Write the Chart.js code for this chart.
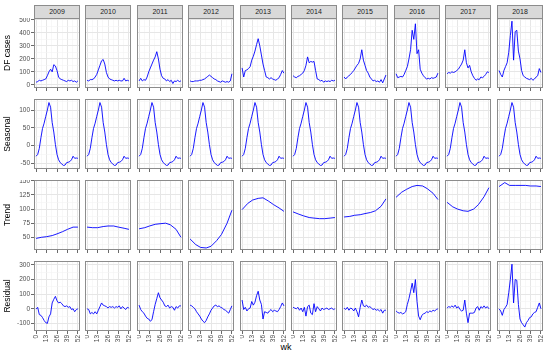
<!DOCTYPE html>
<html>
<head>
<meta charset="utf-8">
<script src="https://cdn.jsdelivr.net/npm/chart.js@4.4.1/dist/chart.umd.min.js"></script>
<style>
  body { margin: 0; background: #fff; width: 550px; height: 355px; position: relative; overflow: hidden;
         font-family: "Liberation Sans", Arial, sans-serif; }
  canvas { position: absolute; }
  .strip { position: absolute; top: 5px; height: 14px; box-sizing: border-box; background: #d9d9d9;
           border: 1px solid #8c8c8c; font-size: 7px; color: #1a1a1a; text-align: center; line-height: 12px; }
  #xtitle { position: absolute; top: 342px; left: 0; width: 572px; text-align: center; font-size: 9px; color: #000; }
</style>
</head>
<body>
<div id="xtitle">wk</div>
<script>
const years = ['2009', '2010', '2011', '2012', '2013', '2014', '2015', '2016', '2017', '2018'];
const weeks = [0, 2, 4, 6, 8, 10, 12, 14, 16, 18, 20, 22, 24, 26, 28, 30, 32, 34, 36, 38, 40, 42, 44, 46, 48, 50, 52];
const trendWeeks = [0, 7, 13, 20, 26, 33, 39, 46, 52];

const cases2009 = [20, 25, 35, 30, 35, 40, 45, 70, 100, 120, 100, 155, 145, 110, 60, 45, 40, 35, 30, 25, 35, 30, 35, 25, 30, 20, 30];
const cases2010 = [35, 30, 40, 40, 45, 60, 80, 115, 150, 185, 195, 160, 95, 60, 45, 40, 35, 30, 35, 30, 35, 30, 30, 50, 30, 35, 30];
const cases2011 = [30, 50, 30, 40, 35, 60, 100, 130, 160, 190, 215, 255, 200, 120, 70, 50, 45, 30, 40, 25, 35, 10, 30, 25, 35, 25, 30];
const cases2012 = [30, 25, 25, 30, 30, 30, 35, 35, 40, 45, 55, 65, 75, 65, 55, 45, 40, 30, 25, 20, 30, 25, 20, 25, 20, 30, 85];
const cases2013 = [130, 60, 110, 115, 125, 140, 190, 220, 260, 310, 355, 300, 230, 160, 110, 60, 55, 45, 55, 45, 40, 35, 45, 55, 80, 110, 90];
const cases2014 = [70, 60, 55, 65, 70, 80, 90, 110, 150, 215, 170, 180, 175, 180, 110, 45, 40, 30, 35, 20, 30, 25, 30, 25, 35, 30, 35];
const cases2015 = [60, 45, 60, 70, 80, 95, 110, 130, 150, 165, 200, 270, 190, 150, 110, 90, 60, 45, 30, 35, 25, 30, 20, 40, 15, 45, 75];
const cases2016 = [85, 55, 60, 65, 60, 80, 110, 140, 200, 270, 420, 350, 470, 240, 270, 120, 90, 70, 55, 45, 50, 45, 55, 50, 55, 60, 90];
const cases2017 = [85, 95, 90, 100, 95, 100, 110, 120, 140, 160, 190, 270, 170, 130, 150, 100, 70, 50, 35, 45, 40, 60, 55, 65, 80, 100, 95];
const cases2018 = [110, 80, 60, 110, 140, 170, 250, 380, 490, 190, 410, 420, 260, 200, 110, 70, 60, 50, 45, 40, 50, 35, 45, 60, 70, 125, 95];

const seasonal = [-30, -25, -8, 22, 48, 63, 82, 100, 121, 108, 65, 38, 3, -25, -40, -48, -52, -56, -55, -48, -47, -45, -40, -30, -36, -35, -36];

const trend2009 = [48, 50, 51, 53, 56, 60, 64, 68, 68];
const trend2010 = [68, 67, 67, 69, 70, 70, 68, 66, 64];
const trend2011 = [65, 67, 70, 73, 74, 75, 72, 64, 50];
const trend2012 = [47, 37, 32, 31, 34, 44, 55, 75, 98];
const trend2013 = [99, 110, 116, 119, 120, 114, 108, 102, 96];
const trend2014 = [95, 91, 88, 85, 84, 83, 83, 84, 85];
const trend2015 = [86, 87, 89, 90, 92, 94, 97, 105, 118];
const trend2016 = [121, 130, 135, 140, 142, 141, 136, 128, 117];
const trend2017 = [112, 104, 100, 97, 96, 100, 108, 122, 138];
const trend2018 = [140, 147, 142, 142, 142, 142, 141, 141, 140];

const resid2009 = [-2, 10, -40, -45, -60, -80, -95, -100, -55, -35, 40, 65, 85, 55, 40, 45, 35, 20, 15, 20, 10, 15, -5, 0, -20, -5, 0];
const resid2010 = [0, -5, -35, -25, -35, -20, -35, -10, 15, 40, 25, 20, 15, 5, 15, 10, 15, 5, 15, 10, 20, 0, 15, 5, -5, 10, 5];
const resid2011 = [25, -5, -20, -30, -50, -65, -70, -85, -75, -20, 30, 70, 110, 75, 60, 45, 20, 15, 25, 5, 15, 10, -10, 15, 5, 20, 20];
const resid2012 = [25, 20, 10, 0, -20, -35, -50, -70, -85, -95, -80, -55, -35, -10, 5, 20, 25, 15, 20, 10, 5, -5, -10, -20, -30, -5, 20];
const resid2013 = [60, -5, 10, -15, 0, 5, 50, 25, 45, 90, 120, 60, 30, -70, -20, -25, -30, -15, -5, -20, -10, -15, -20, -5, 15, 40, 20];
const resid2014 = [10, 5, 0, 10, -10, 5, -20, 10, -50, 15, 25, -30, -40, 35, -20, 15, 0, -15, 5, -5, 0, 5, -5, 0, 5, -5, 0];
const resid2015 = [5, -5, 10, -10, 5, 0, -15, 5, -20, -55, 10, 60, 20, 15, 25, 10, 15, 5, -5, 0, -10, -5, -15, -5, -30, -10, -10];
const resid2016 = [-15, -25, -30, -25, -35, -30, -20, 30, 70, 120, 175, 110, 200, 50, -50, -75, -45, -35, -30, -20, -25, -15, -20, -10, -15, -5, 0];
const resid2017 = [5, 15, 10, 20, 10, 25, 5, 15, -5, -15, -10, 60, -30, -95, -30, -30, -30, -25, 5, 15, -10, 15, 5, 20, 5, 15, 0];
const resid2018 = [0, -15, -45, -5, 10, 30, 110, 200, 305, 40, 200, 195, 30, -70, -95, -110, -125, -95, -80, -60, -55, -35, -25, -20, 10, 40, 0];

// axis ticks (major labelled, minor = grid only)
const xMajor = [0, 13, 26, 39, 52];
const xMinor = [6.5, 19.5, 32.5, 45.5];
const rowNames = ['DF cases', 'Seasonal', 'Trend', 'Residual'];
const yMajor = [[0, 100, 200, 300, 400, 500], [-50, 0, 50, 100], [50, 75, 100, 125, 150], [-100, 0, 100, 200, 300]];
const yMinor = [[50, 150, 250, 350, 450], [-25, 25, 75, 125], [37.5, 62.5, 87.5, 112.5, 137.5], [-150, -50, 50, 150, 250]];
const yRange = [[-24.5, 514.5], [-66, 131], [27.4, 151.6], [-152, 327]];

const casesByYear = [cases2009, cases2010, cases2011, cases2012, cases2013, cases2014, cases2015, cases2016, cases2017, cases2018];
const trendByYear = [trend2009, trend2010, trend2011, trend2012, trend2013, trend2014, trend2015, trend2016, trend2017, trend2018];
const residByYear = [resid2009, resid2010, resid2011, resid2012, resid2013, resid2014, resid2015, resid2016, resid2017, resid2018];

// layout
const panelLeft = [34, 85, 137, 188, 240, 291, 342, 394, 445, 497];
const panelW = 46;
const rowTop = [18, 99, 180, 261];
const panelH = 70;
const FONT = '"Liberation Sans", Arial, sans-serif';

const frame = {
  id: 'frame',
  afterDraw(chart) {
    const a = chart.chartArea, g = chart.ctx;
    g.save();
    g.strokeStyle = '#8c8c8c';
    g.lineWidth = 1;
    g.strokeRect(a.left + 0.5, a.top + 0.5, a.right - a.left - 1, a.bottom - a.top - 1);
    g.restore();
  }
};

const sortTicks = (a, b) => a.concat(b).sort((p, q) => p - q).map(v => ({value: v}));

function seriesFor(r, c) {
  if (r === 0) return weeks.map((x, i) => ({x, y: casesByYear[c][i]}));
  if (r === 1) return weeks.map((x, i) => ({x, y: seasonal[i]}));
  if (r === 2) return trendWeeks.map((x, i) => ({x, y: trendByYear[c][i]}));
  return weeks.map((x, i) => ({x, y: residByYear[c][i]}));
}

function makePanel(r, c) {
  const padL = c === 0 ? panelLeft[0] : 0;
  const padB = r === 3 ? 24 : 4;
  const cv = document.createElement('canvas');
  cv.width = panelW + padL;
  cv.height = panelH + padB;
  cv.style.left = (panelLeft[c] - padL) + 'px';
  cv.style.top = rowTop[r] + 'px';
  document.body.appendChild(cv);

  const isXMajor = v => xMajor.includes(v);
  const isYMajor = v => yMajor[r].includes(v);

  new Chart(cv, {
    type: 'line',
    data: {
      datasets: [{
        data: seriesFor(r, c),
        borderColor: '#0000ff',
        borderWidth: 0.9,
        pointRadius: 0,
        tension: 0
      }]
    },
    options: {
      responsive: false,
      animation: false,
      devicePixelRatio: 1,
      layout: { padding: 0 },
      plugins: { legend: { display: false }, tooltip: { enabled: false } },
      scales: {
        x: {
          type: 'linear', min: -2.6, max: 54.6,
          afterBuildTicks: s => { s.ticks = sortTicks(xMajor, xMinor); },
          afterFit: s => { s.height = padB; s.paddingLeft = 0; s.paddingRight = 0; },
          border: { display: false },
          grid: {
            color: ctx => isXMajor(ctx.tick.value) ? '#e6e6e6' : '#f3f3f3',
            lineWidth: ctx => isXMajor(ctx.tick.value) ? 1 : 0.6,
            drawTicks: true, tickLength: 3,
            tickColor: ctx => isXMajor(ctx.tick.value) ? '#444' : 'rgba(0,0,0,0)',
            tickWidth: 0.8
          },
          ticks: {
            display: r === 3, autoSkip: false, minRotation: 90, maxRotation: 90, padding: 1,
            color: '#4d4d4d', font: { size: 6.5, family: FONT },
            callback: v => isXMajor(v) ? String(v) : ''
          }
        },
        y: {
          min: yRange[r][0], max: yRange[r][1],
          afterBuildTicks: s => { s.ticks = sortTicks(yMajor[r], yMinor[r]); },
          afterFit: s => { s.width = padL; s.paddingTop = 0; s.paddingBottom = 0; },
          border: { display: false },
          grid: {
            color: ctx => isYMajor(ctx.tick.value) ? '#e6e6e6' : '#f3f3f3',
            lineWidth: ctx => isYMajor(ctx.tick.value) ? 1 : 0.6,
            drawTicks: c === 0, tickLength: 3,
            tickColor: ctx => isYMajor(ctx.tick.value) ? '#444' : 'rgba(0,0,0,0)',
            tickWidth: 0.8
          },
          ticks: {
            display: c === 0, autoSkip: false, padding: 1,
            color: '#4d4d4d', font: { size: 6.5, family: FONT },
            callback: v => isYMajor(v) ? String(v) : ''
          },
          title: {
            display: c === 0, text: rowNames[r], color: '#000',
            font: { size: 8.5, family: FONT }, padding: { top: 3, bottom: 0 }
          }
        }
      }
    },
    plugins: [frame]
  });
}

years.forEach((y, c) => {
  const d = document.createElement('div');
  d.className = 'strip';
  d.style.left = panelLeft[c] + 'px';
  d.style.width = panelW + 'px';
  d.textContent = y;
  document.body.appendChild(d);
});

for (let r = 0; r < 4; r++) {
  for (let c = 0; c < years.length; c++) makePanel(r, c);
}
</script>
</body>
</html>
